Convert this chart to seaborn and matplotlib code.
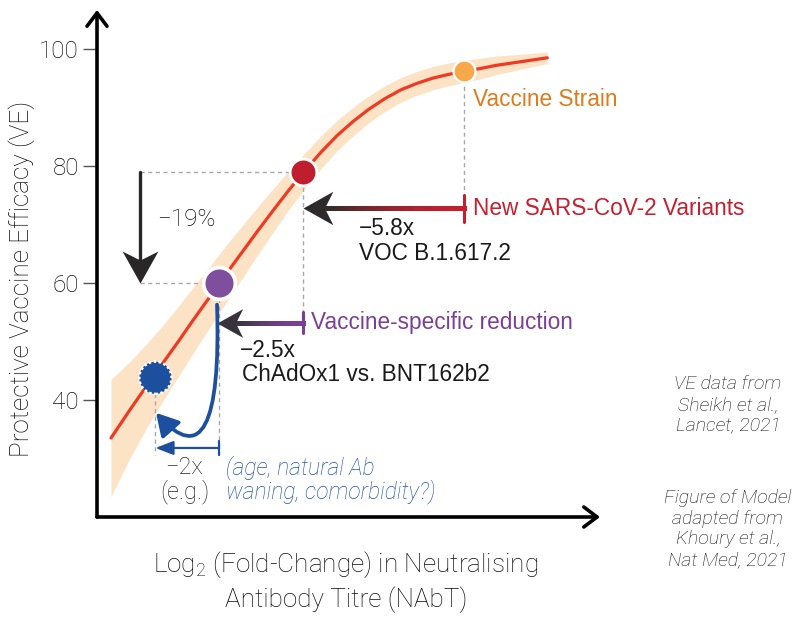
import numpy as np
import matplotlib.pyplot as plt
import seaborn as sns
from matplotlib.path import Path
from matplotlib.markers import MarkerStyle
from matplotlib.patches import FancyArrowPatch
from matplotlib.collections import LineCollection
from matplotlib.colors import to_rgb
from matplotlib.transforms import Affine2D

# model curve (x = log2 fold-change relative to vaccine strain, y = VE %)
curve_x = [-5.56, -5.25, -5.0, -4.75, -4.5, -4.25, -4.0, -3.75, -3.5, -3.25, -3.0, -2.75, -2.5, -2.25,
           -2.0, -1.75, -1.5, -1.25, -1.0, -0.75, -0.5, -0.25, 0.0, 0.25, 0.5, 0.75, 1.0, 1.31]
curve_ve = [33.5, 38.5, 42.4, 46.2, 50.0, 53.9, 57.7, 61.5, 65.2, 68.9, 72.5, 76.0, 79.3, 82.4,
            85.2, 87.6, 89.7, 91.5, 93.0, 94.1, 95.0, 95.65, 96.2, 96.65, 97.2, 97.6, 98.0, 98.5]
band_hi = [43.5, 46.7, 49.6, 52.7, 56.0, 59.5, 62.9, 66.4, 69.7, 73.0, 76.2, 79.3, 82.3, 85.2,
           87.8, 90.05, 92.0, 93.7, 95.1, 96.15, 97.0, 97.6, 98.1, 98.4, 98.8, 99.0, 99.2, 99.5]
band_lo = [23.5, 30.3, 35.2, 39.7, 44.0, 48.3, 52.5, 56.6, 60.7, 64.8, 68.8, 72.7, 76.3, 79.6,
           82.6, 85.15, 87.4, 89.3, 90.9, 92.05, 93.0, 93.7, 94.3, 94.9, 95.6, 96.2, 96.8, 97.5]

# highlighted points
point_x = [0.0, -2.54, -3.86, -4.86]
point_ve = [96.2, 79.0, 60.0, 43.8]
point_colors = ['#F7A84B', '#BE1E2D', '#7F4F9E', '#1D4F9F']

group_labels = ['Vaccine Strain', 'New SARS-CoV-2 Variants', 'Vaccine-specific reduction']
fold_labels = ['\u22125.8x', '\u22122.5x', '\u22122x']
detail_labels = ['VOC B.1.617.2', 'ChAdOx1 vs. BNT162b2', '(e.g.)']
extra_labels = ['(age, natural Ab', 'waning, comorbidity?)']
ve_drop = '\u221219%'
yticks = [40, 60, 80, 100]

sns.set_theme(style='white')
plt.rcParams['font.family'] = ['Roboto', 'DejaVu Sans']
plt.rcParams['font.weight'] = 'light'
plt.rcParams['mathtext.fontset'] = 'custom'
plt.rcParams['mathtext.rm'] = 'Roboto:weight=light'
plt.rcParams['mathtext.default'] = 'regular'

# in-plot labels use a regular-weight Helvetica-like face
LAB = dict(family=['Liberation Sans', 'DejaVu Sans'], weight='normal', fontsize=16.3, va='center')
INK = '#0A0A0A'

fig = plt.figure(figsize=(8, 6.2), dpi=100)
ax = fig.add_axes([97 / 800, 103 / 620, 503 / 800, 507 / 620])
ax.set_xlim(-5.78, 2.14)
ax.set_ylim(20, 106.67)
for s in ax.spines.values():
    s.set_visible(False)

RED = '#C4202E'
PURPLE = '#7B3F98'
BLUE = '#1D4F9F'
DARK = '#2A2627'
GREY = '#A8A8A8'


def stealth(angle):
    p = Path([(0, 0), (-1, 0.56), (-0.72, 0), (-1, -0.56), (0, 0)],
             [Path.MOVETO, Path.LINETO, Path.LINETO, Path.LINETO, Path.CLOSEPOLY])
    return MarkerStyle(p, transform=Affine2D().rotate_deg(angle))


def gradient_shaft(x0, x1, y, c0, c1, lw):
    a, b = np.array(to_rgb(c0)), np.array(to_rgb(c1))
    xs = np.linspace(x0, x1, 80)
    segs = [[(xs[i], y), (xs[i + 1], y)] for i in range(len(xs) - 1)]
    cols = [tuple(a * (1 - t) + b * t) for t in np.linspace(0, 1, len(segs)) ** 1.8]
    ax.add_collection(LineCollection(segs, colors=cols, linewidths=lw, capstyle='projecting',
                                     antialiaseds=False, zorder=6))


# band + curve
ax.fill_between(curve_x, band_lo, band_hi, color='#FDE3C6', lw=0, zorder=1)
sns.lineplot(x=curve_x, y=curve_ve, ax=ax, color='#EE3A23', lw=2.3, sort=False, zorder=3)

# dashed guides
dash = dict(color=GREY, lw=1, ls=(0, (3, 2.5)), zorder=2)
ax.plot([-5.10, point_x[1]], [point_ve[1], point_ve[1]], **dash)
ax.plot([-5.10, point_x[2]], [point_ve[2], point_ve[2]], **dash)
ax.plot([point_x[0], point_x[0]], [point_ve[0], 71.5], **dash)
ax.plot([point_x[1], point_x[1]], [point_ve[1], 51.5], **dash)
ax.plot([point_x[2], point_x[2]], [point_ve[2], 30.6], **dash)
ax.plot([point_x[3], point_x[3]], [point_ve[3], 30.6], **dash)

# points
sizes = [250, 370, 520, 540]
edges = [1.6, 2.0, 2.6, 1.8]
for i in range(3):
    sns.scatterplot(x=[point_x[i]], y=[point_ve[i]], ax=ax, s=sizes[i], color=point_colors[i],
                    edgecolor='white', linewidth=edges[i], zorder=7)
sns.scatterplot(x=[point_x[3]], y=[point_ve[3]], ax=ax, s=sizes[3], color=point_colors[3],
                edgecolor='white', linewidth=edges[3], linestyle=(0, (1, 1)), zorder=7)

# -19% arrow
ax.plot([-5.10, -5.10], [point_ve[1], 63], color=DARK, lw=2.4, zorder=6)
ax.plot(-5.10, point_ve[2], marker=stealth(-90), ms=46, color=DARK, mew=0, zorder=6)
ax.text(-4.83, 70.8, ve_drop, color=INK, fontsize=17.5, va='center')

# variants arrow
y_r = 72.8
gradient_shaft(point_x[0], point_x[1] + 0.35, y_r, RED, '#332B2C', 2.2)
ax.plot([point_x[0], point_x[0]], [y_r - 2.3, y_r + 2.3], color=RED, lw=2.2, zorder=6)
ax.plot(point_x[1], y_r, marker=stealth(180), ms=43, color='#2E2A2B', mew=0, zorder=6)
ax.text(0.14, y_r, group_labels[1], color=RED, **LAB)
ax.text(-1.65, 69.4, fold_labels[0], color='#1A1A1A', **LAB)
ax.text(-1.65, 65.0, detail_labels[0], color='#1A1A1A', **LAB)

# vaccine-specific arrow
y_p = 53.2
gradient_shaft(point_x[1], point_x[2] + 0.3, y_p, PURPLE, '#3C3640', 2.2)
ax.plot([point_x[1], point_x[1]], [y_p - 1.8, y_p + 1.8], color=PURPLE, lw=2.2, zorder=6)
ax.plot(point_x[2] - 0.03, y_p, marker=stealth(180), ms=37, color='#37323B', mew=0, zorder=6)
ax.text(-2.41, y_p, group_labels[2], color=PURPLE, **LAB)
ax.text(-3.53, 48.5, fold_labels[1], color='#1A1A1A', **LAB)
ax.text(-3.50, 44.3, detail_labels[1], color='#1A1A1A', **LAB)

# vaccine strain label
ax.text(0.14, 91.3, group_labels[0], color='#DE7B1C', **LAB)

# blue curved + horizontal arrows
hook = Path([(-3.89, 56.3), (-3.80, 25.0), (-4.85, 37.8)], [Path.MOVETO, Path.CURVE3, Path.CURVE3])
ax.add_patch(FancyArrowPatch(path=hook, arrowstyle='-|>,head_length=0.7,head_width=0.4',
                             mutation_scale=19, lw=2.7, color=BLUE, zorder=6))
y_b = 31.8
ax.annotate('', xy=(point_x[3], y_b), xytext=(point_x[2], y_b),
            arrowprops=dict(arrowstyle='-|>,head_length=0.9,head_width=0.35', mutation_scale=12,
                            lw=1.6, color=BLUE, shrinkA=0, shrinkB=0), zorder=6)
ax.plot([point_x[2], point_x[2]], [y_b - 1.2, y_b + 1.2], color=BLUE, lw=1.6, zorder=6)
ax.text(-4.41, 28.5, fold_labels[2], color='#222222', fontsize=17, va='center', ha='center')
ax.text(-4.39, 24.3, detail_labels[2], color='#222222', fontsize=17, va='center', ha='center')
ax.text(-3.75, 28.5, extra_labels[0], color='#1F52A6', fontsize=16.5, style='italic', va='center')
ax.text(-3.75, 24.3, extra_labels[1], color='#1F52A6', fontsize=16.5, style='italic', va='center')

# axes with arrow heads
axis_arrow = dict(arrowstyle='->,head_length=0.95,head_width=0.72', mutation_scale=10,
                  lw=2.6, color='black', shrinkA=0, shrinkB=0)
ax.annotate('', xy=(0, 1), xytext=(0, 0), xycoords='axes fraction', arrowprops=axis_arrow)
ax.annotate('', xy=(1, 0), xytext=(0, 0), xycoords='axes fraction', arrowprops=axis_arrow)

ax.set_xticks([])
ax.set_yticks(yticks)
ax.set_yticklabels([str(t) for t in yticks])
ax.tick_params(axis='y', left=True, length=10, width=1, color='#555555',
               labelsize=17.5, labelcolor=INK, pad=3)
ax.set_xlabel('')
ax.set_ylabel('')

fig.text(22 / 800, 1 - 279 / 620, 'Protective Vaccine Efficacy (VE)', rotation=90,
         ha='center', va='center', fontsize=18.8, color=INK)
fig.text(346 / 800, 1 - 565 / 620, 'Log$_2$ (Fold-Change) in Neutralising',
         ha='center', va='center', fontsize=18.8, color=INK)
fig.text(346 / 800, 1 - 600 / 620, 'Antibody Titre (NAbT)',
         ha='center', va='center', fontsize=18.8, color=INK)

fig.text(728 / 800, 1 - 405 / 620, 'VE data from\nSheikh et al.,\nLancet, 2021',
         ha='center', va='center', fontsize=14, style='italic', color='#111111', linespacing=1.2)
fig.text(728 / 800, 1 - 529 / 620, 'Figure of Model\nadapted from\nKhoury et al.,\nNat Med, 2021',
         ha='center', va='center', fontsize=14, style='italic', color='#111111', linespacing=1.2)

fig.savefig('out.png', dpi=100)
